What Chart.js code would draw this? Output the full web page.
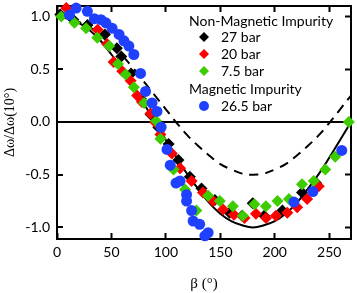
<!DOCTYPE html>
<html>
<head>
<meta charset="utf-8">
<script src="https://cdn.jsdelivr.net/npm/chart.js@4/dist/chart.umd.min.js"></script>
<style>
  html, body { margin: 0; padding: 0; background: #fff; }
  #wrap { width: 357px; height: 293px; }
</style>
</head>
<body>
<div id="wrap"><canvas id="myChart"></canvas></div>
<script>
// axis ticks
const xTicks = [0, 50, 100, 150, 200, 250];
const yTicks = [-1.0, -0.5, 0.0, 0.5, 1.0];

const curveBeta = [0, 10, 20, 30, 40, 50, 60, 70, 80, 90, 100, 110, 120, 130, 140,
  150, 160, 170, 180, 190, 200, 210, 220, 230, 240, 250, 260, 270];
const solidVals = [1.0, 0.98, 0.94, 0.87, 0.77, 0.64, 0.5, 0.34, 0.17, 0.0, -0.17, -0.34, -0.5, -0.64, -0.77,
  -0.87, -0.94, -0.98, -1.0, -0.98, -0.94, -0.87, -0.77, -0.64, -0.5, -0.34, -0.17, 0.0];
const dashedVals = [1.0, 0.99, 0.95, 0.9, 0.82, 0.73, 0.63, 0.51, 0.38, 0.25, 0.12, -0.01, -0.13, -0.23, -0.32,
  -0.4, -0.45, -0.49, -0.5, -0.49, -0.45, -0.4, -0.32, -0.23, -0.13, -0.01, 0.12, 0.25];

// Non-magnetic impurity, 27 bar
const beta27 = [3, 15, 28, 44, 55, 59, 68, 77, 86, 93, 102.5, 111.5, 122, 132.7, 145, 158.5, 170, 179.7, 190.3, 207, 225, 238];
const val27 = [1.02, 0.97, 0.92, 0.83, 0.7, 0.62, 0.46, 0.22, 0.07, -0.05, -0.21, -0.36, -0.52, -0.63, -0.74, -0.86, -0.89, -0.77, -0.89, -0.84, -0.67, -0.58];

// 20 bar
const beta20 = [8.5, 37.3, 46, 52, 60, 67.6, 73.6, 78, 85.8, 90, 95, 105.5, 113, 123.6, 134, 143.4, 152.5, 162.5, 172.2, 182.7, 192, 201, 211.5, 220.6, 229.7, 240.4];
const val20 = [1.08, 0.875, 0.74, 0.57, 0.48, 0.39, 0.25, 0.19, 0.08, 0.0, -0.12, -0.3, -0.44, -0.56, -0.67, -0.75, -0.83, -0.88, -0.91, -0.87, -0.91, -0.89, -0.86, -0.81, -0.73, -0.61];

// 7.5 bar
const beta75 = [3.9, 16, 26.7, 37, 47.9, 56, 63, 70.6, 80, 91, 95, 107, 117.6, 128, 138.8, 149.5, 161.5, 170.6, 181.3, 191.8, 202.5, 213, 225, 235.8, 246.4, 255.5, 268];
const val75 = [1.0, 0.94, 0.89, 0.8, 0.72, 0.55, 0.45, 0.33, 0.18, 0.01, -0.16, -0.45, -0.64, -0.84, -0.7, -0.75, -0.8, -0.89, -0.78, -0.8, -0.75, -0.73, -0.59, -0.56, -0.45, -0.33, 0.0];

// Magnetic impurity, 26.5 bar
const beta265 = [11.5, 17.6, 27.9, 34.3, 40.4, 44.9, 50.6, 57, 61.5, 66, 70.6, 76.7, 81.3, 87.3, 91.8, 95.6, 101, 104, 109.3, 113, 119, 119, 123.6, 125, 131, 138.8, 135.8, 217.6, 235, 261.5];
const val265 = [1.015, 1.08, 1.05, 0.98, 0.97, 0.94, 0.89, 0.83, 0.77, 0.72, 0.64, 0.46, 0.29, 0.18, 0.1, -0.05, -0.26, -0.41, -0.58, -0.56, -0.69, -0.75, -0.84, -0.94, -0.97, -1.05, -1.08, -0.76, -0.66, -0.27];

const black = "#000000";
const red = "#ff0000";
const green = "#3ccc00";
const blue = "#2040ff";

function pts(xs, ys) {
  return xs.map((x, i) => ({ x: x, y: ys[i] }));
}

// legend with the two group headings
const legendBox = {
  id: "legendBox",
  afterDraw(chart) {
    const ctx = chart.ctx;
    ctx.save();
    ctx.font = "14px Lato";
    ctx.fillStyle = "#000";
    ctx.textBaseline = "middle";
    ctx.fillText("Non-Magnetic Impurity", 189, 21);
    ctx.fillText("Magnetic Impurity", 189, 89);
    const rows = [
      ["27 bar", black, 37, "d"],
      ["20 bar", red, 54, "d"],
      ["7.5 bar", green, 71, "d"],
      ["26.5 bar", blue, 106, "c"],
    ];
    rows.forEach((r) => {
      ctx.fillStyle = r[1];
      ctx.beginPath();
      if (r[3] === "d") {
        ctx.moveTo(204, r[2] - 5);
        ctx.lineTo(209, r[2]);
        ctx.lineTo(204, r[2] + 5);
        ctx.lineTo(199, r[2]);
        ctx.closePath();
      } else {
        ctx.arc(204, r[2], 5, 0, Math.PI * 2);
      }
      ctx.fill();
      ctx.fillStyle = "#000";
      ctx.fillText(r[0], 221, r[2]);
    });
    ctx.restore();
  },
};

const data = {
  datasets: [
    {
      label: "26.5 bar",
      data: pts(beta265, val265),
      backgroundColor: blue,
      borderWidth: 0,
      pointStyle: "circle",
      pointRadius: 5.5,
      clip: false,
      order: 1,
    },
    {
      label: "7.5 bar",
      data: pts(beta75, val75),
      backgroundColor: green,
      borderWidth: 0,
      pointStyle: "rectRot",
      pointRadius: 6,
      clip: false,
      order: 2,
    },
    {
      label: "20 bar",
      data: pts(beta20, val20),
      backgroundColor: red,
      borderWidth: 0,
      pointStyle: "rectRot",
      pointRadius: 6,
      clip: false,
      order: 3,
    },
    {
      label: "27 bar",
      data: pts(beta27, val27),
      backgroundColor: black,
      borderWidth: 0,
      pointStyle: "rectRot",
      pointRadius: 6,
      clip: false,
      order: 4,
    },
    {
      type: "line",
      label: "solid",
      data: pts(curveBeta, solidVals),
      borderColor: black,
      borderWidth: 2,
      pointRadius: 0,
      tension: 0.4,
      order: 5,
    },
    {
      type: "line",
      label: "dashed",
      data: pts(curveBeta, dashedVals),
      borderColor: black,
      borderWidth: 2,
      borderDash: [9, 7],
      pointRadius: 0,
      tension: 0.4,
      order: 6,
    },
  ],
};

// inward tick marks through a negative tick length, box from the axis borders
const tickGrid = {
  drawOnChartArea: false,
  drawTicks: true,
  tickLength: -6,
  tickColor: "#000",
  tickWidth: 2,
};
const frameBorder = { display: true, color: "#000", width: 2 };

const config = {
  type: "scatter",
  data: data,
  options: {
    responsive: true,
    maintainAspectRatio: false,
    animation: false,
    layout: { padding: { top: 3, right: 2, left: 0, bottom: 0 } },
    scales: {
      x: {
        type: "linear",
        position: "bottom",
        min: 0,
        max: 270,
        afterBuildTicks: (s) => { s.ticks = xTicks.map((v) => ({ value: v })); },
        afterFit: (s) => { s.height = 54; s.paddingLeft = 0; s.paddingRight = 0; },
        grid: tickGrid,
        border: frameBorder,
        ticks: {
          color: "#000",
          padding: 11,
          font: { family: "Lato", size: 14 },
          maxRotation: 0,
        },
        title: {
          display: true,
          text: "β (°)",
          color: "#000",
          font: { family: "'Liberation Serif'", size: 15 },
          padding: { top: 0, bottom: 0 },
        },
      },
      x2: {
        type: "linear",
        position: "top",
        min: 0,
        max: 270,
        afterBuildTicks: (s) => { s.ticks = xTicks.map((v) => ({ value: v })); },
        afterFit: (s) => { s.height = 0; s.paddingLeft = 0; s.paddingRight = 0; },
        grid: tickGrid,
        border: frameBorder,
        ticks: { display: false },
      },
      y: {
        type: "linear",
        position: "left",
        min: -1.11,
        max: 1.1,
        afterBuildTicks: (s) => { s.ticks = yTicks.map((v) => ({ value: v })); },
        afterFit: (s) => { s.width = 57; s.paddingTop = 0; s.paddingBottom = 0; },
        grid: {
          drawOnChartArea: true,
          drawTicks: true,
          tickLength: -6,
          tickColor: "#000",
          tickWidth: 2,
          color: (c) => (c.tick && c.tick.value === 0 ? "#000" : "rgba(0,0,0,0)"),
          lineWidth: 2,
        },
        border: frameBorder,
        ticks: {
          color: "#000",
          padding: 13,
          font: { family: "Lato", size: 14 },
          callback: (v) => v.toFixed(1),
        },
        title: {
          display: true,
          text: "Δω/Δω(10°)",
          color: "#000",
          font: { family: "'Liberation Serif'", size: 14 },
          padding: { top: 2, bottom: 0 },
        },
      },
      y2: {
        type: "linear",
        position: "right",
        min: -1.11,
        max: 1.1,
        afterBuildTicks: (s) => { s.ticks = yTicks.map((v) => ({ value: v })); },
        afterFit: (s) => { s.width = 0; s.paddingTop = 0; s.paddingBottom = 0; },
        grid: tickGrid,
        border: frameBorder,
        ticks: { display: false },
      },
    },
    plugins: {
      legend: { display: false },
      tooltip: { enabled: false },
    },
  },
  plugins: [legendBox],
};

const myChart = new Chart(document.getElementById("myChart"), config);
</script>
</body>
</html>
